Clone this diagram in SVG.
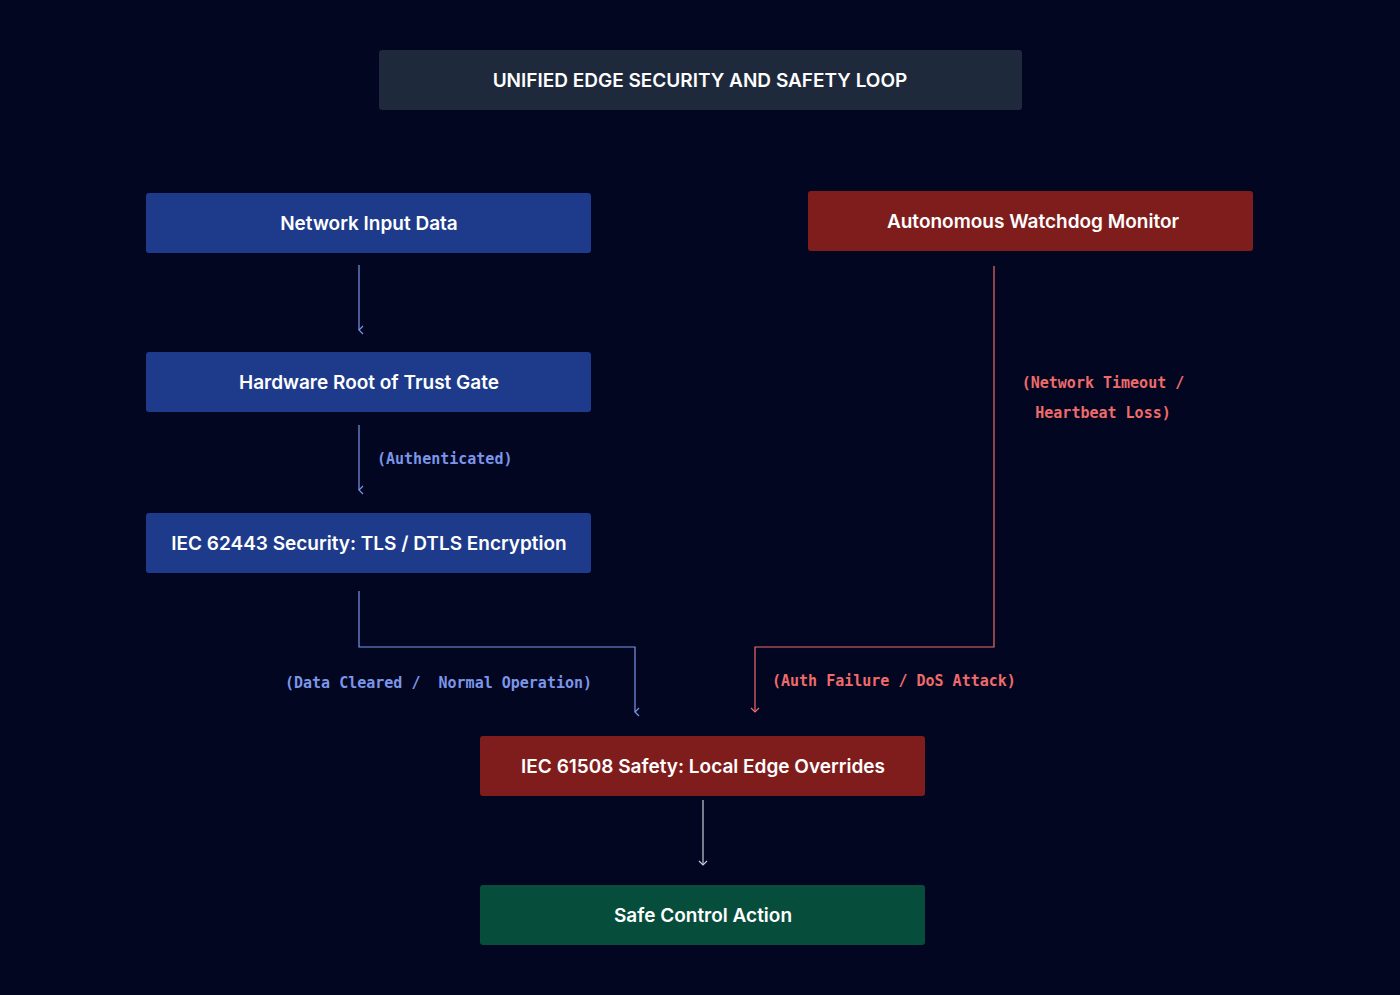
<svg xmlns="http://www.w3.org/2000/svg" width="1400" height="995" viewBox="0 0 1400 995">
<defs>
<style>
.t{font-family:Inter,"Noto Sans",sans-serif;font-size:19px;font-weight:600;fill:#fff;text-anchor:middle}
.l{font-family:"DejaVu Sans Mono","Liberation Mono",monospace;font-size:15px;font-weight:bold}
.b{fill:#1e3a8a}.r{fill:#7f1d1d}
.cb{stroke:#7b96e8;fill:none;stroke-width:1.2}
.cr{stroke:#ef6b6b;fill:none;stroke-width:1.2}
.cw{stroke:#c8ccd4;fill:none;stroke-width:1.2}
</style>
<marker id="ab" markerWidth="10" markerHeight="8" refX="5" refY="7" orient="auto-start-reverse" markerUnits="userSpaceOnUse" viewBox="0 0 10 8"><path d="M1,3 L5,7 L9,3" fill="none" stroke="#7b96e8" stroke-width="1.2"/></marker>
<marker id="ar" markerWidth="10" markerHeight="8" refX="5" refY="7" markerUnits="userSpaceOnUse" viewBox="0 0 10 8"><path d="M1,3 L5,7 L9,3" fill="none" stroke="#ef6b6b" stroke-width="1.2"/></marker>
<marker id="aw" markerWidth="10" markerHeight="8" refX="5" refY="7" markerUnits="userSpaceOnUse" viewBox="0 0 10 8"><path d="M1,3 L5,7 L9,3" fill="none" stroke="#c8ccd4" stroke-width="1.2"/></marker>
</defs>
<rect width="1400" height="995" fill="#030620"/>
<g id="title"><rect x="379" y="50" width="643" height="60" rx="3" fill="#1e293b"/><text class="t" x="700" y="87">UNIFIED EDGE SECURITY AND SAFETY LOOP</text></g>
<g id="n1"><rect class="b" x="146" y="193" width="445" height="60" rx="3"/><text class="t" x="369" y="230">Network Input Data</text></g>
<g id="n2"><rect class="b" x="146" y="352" width="445" height="60" rx="3"/><text class="t" x="369" y="389">Hardware Root of Trust Gate</text></g>
<g id="n3"><rect class="b" x="146" y="513" width="445" height="60" rx="3"/><text class="t" x="369" y="550">IEC 62443 Security: TLS / DTLS Encryption</text></g>
<g id="n4"><rect class="r" x="808" y="191" width="445" height="60" rx="3"/><text class="t" x="1033" y="228">Autonomous Watchdog Monitor</text></g>
<g id="n5"><rect class="r" x="480" y="736" width="445" height="60" rx="3"/><text class="t" x="703" y="773">IEC 61508 Safety: Local Edge Overrides</text></g>
<g id="n6"><rect x="480" y="885" width="445" height="60" rx="3" fill="#064e3b"/><text class="t" x="703" y="922">Safe Control Action</text></g>
<g id="connectors">
<path class="cb" d="M359,265 V330" marker-end="url(#ab)"/>
<path class="cb" d="M359,425 V490" marker-end="url(#ab)"/>
<path class="cb" d="M359,591 V647 H635 V712" marker-end="url(#ab)"/>
<path class="cr" d="M994,266 V647 H755 V712" marker-end="url(#ar)"/>
<path class="cw" d="M703,800 V865" marker-end="url(#aw)"/>
<text class="l" x="377" y="464" fill="#7b96e8">(Authenticated)</text>
<text class="l" x="285" y="688" fill="#7b96e8" xml:space="preserve">(Data Cleared /  Normal Operation)</text>
<text class="l" x="772" y="686" fill="#ef6b6b">(Auth Failure / DoS Attack)</text>
<text class="l" x="1103" y="388" fill="#ef6b6b" text-anchor="middle">(Network Timeout /</text>
<text class="l" x="1103" y="418" fill="#ef6b6b" text-anchor="middle">Heartbeat Loss)</text>
</g>
</svg>
